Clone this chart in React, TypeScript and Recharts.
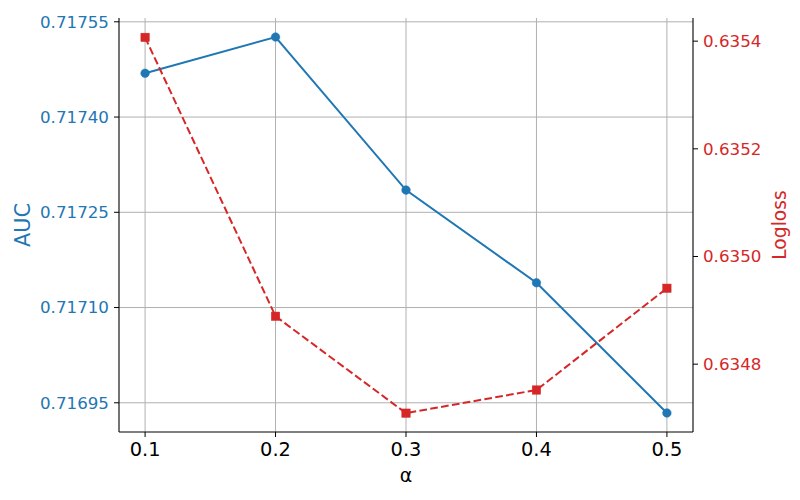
import React from "react";
import {
  LineChart,
  Line,
  CartesianGrid,
  XAxis,
  YAxis,
} from "recharts";

const alphas = [0.1, 0.2, 0.3, 0.4, 0.5];
const aucValues = [0.717469, 0.717526, 0.717285, 0.717139, 0.716934];
const loglossValues = [0.635407, 0.634889, 0.634709, 0.634752, 0.634941];

const xTicks = [0.1, 0.2, 0.3, 0.4, 0.5];
const aucTicks = [0.71695, 0.7171, 0.71725, 0.7174, 0.71755];
const loglossTicks = [0.6348, 0.635, 0.6352, 0.6354];

const BLUE = "#1f77b4";
const RED = "#d62728";
const FONT = "DejaVu Sans, sans-serif";

const chartData = alphas.map((a, i) => ({
  alpha: a,
  auc: aucValues[i],
  logloss: loglossValues[i],
}));

const SquareDot = (props: any) => {
  const { cx, cy, index } = props;
  if (cx == null || cy == null) return <g key={`sq-${index}`} />;
  return (
    <rect
      key={`sq-${index}`}
      x={cx - 4.2}
      y={cy - 4.2}
      width={8.4}
      height={8.4}
      fill={RED}
      stroke={RED}
      strokeWidth={0.5}
    />
  );
};

const AxisTitle = ({ viewBox, text, dx, color, size }: any) => {
  const x = viewBox.x + dx;
  const y = viewBox.y + viewBox.height / 2;
  return (
    <text
      x={x}
      y={y}
      fill={color}
      fontSize={size}
      fontFamily={FONT}
      textAnchor="middle"
      dominantBaseline="central"
      transform={`rotate(-90, ${x}, ${y})`}
    >
      {text}
    </text>
  );
};

export default function App() {
  return (
    <div style={{ position: "absolute", left: 0, top: 0, background: "#fff" }}>
      <LineChart
        width={800}
        height={500}
        data={chartData}
        margin={{ top: 18, right: 0, left: 0, bottom: 0 }}
      >
        <CartesianGrid
          yAxisId="left"
          stroke="#b0b0b0"
          strokeWidth={1}
          horizontalValues={aucTicks}
          verticalValues={xTicks}
        />
        <XAxis
          dataKey="alpha"
          type="number"
          domain={[0.08, 0.52]}
          ticks={xTicks}
          height={68}
          axisLine={{ stroke: "#000", strokeWidth: 1.1 }}
          tickLine={{ stroke: "#000" }}
          tickSize={5}
          tickMargin={5}
          tick={{ fontSize: 19.4, fill: "#000", fontFamily: FONT }}
          tickFormatter={(v: number) => v.toFixed(1)}
          label={(p: any) => (
            <text
              x={p.viewBox.x + p.viewBox.width / 2}
              y={p.viewBox.y + 43}
              fontSize={19}
              fontFamily={FONT}
              fill="#000"
              textAnchor="middle"
              dominantBaseline="central"
            >
              α
            </text>
          )}
        />
        <XAxis
          xAxisId="top"
          orientation="top"
          dataKey="alpha"
          type="number"
          domain={[0.08, 0.52]}
          height={0}
          tick={false}
          tickLine={false}
          axisLine={{ stroke: "#000", strokeWidth: 1.1 }}
        />
        <YAxis
          yAxisId="left"
          width={119}
          type="number"
          domain={[0.716904, 0.717556]}
          ticks={aucTicks}
          allowDataOverflow
          axisLine={{ stroke: "#000", strokeWidth: 1.1 }}
          tickLine={{ stroke: "#000" }}
          tickSize={5}
          tickMargin={5}
          tick={{ fontSize: 16.7, fill: BLUE, fontFamily: FONT }}
          tickFormatter={(v: number) => v.toFixed(5)}
          label={(p: any) => (
            <AxisTitle viewBox={p.viewBox} text="AUC" dx={22.5} color={BLUE} size={20.8} />
          )}
        />
        <YAxis
          yAxisId="right"
          orientation="right"
          width={107}
          type="number"
          domain={[0.634674, 0.635443]}
          ticks={loglossTicks}
          allowDataOverflow
          axisLine={{ stroke: "#000", strokeWidth: 1.1 }}
          tickLine={{ stroke: "#000" }}
          tickSize={5}
          tickMargin={5}
          tick={{ fontSize: 16.7, fill: RED, fontFamily: FONT }}
          tickFormatter={(v: number) => v.toFixed(4)}
          label={(p: any) => (
            <AxisTitle viewBox={p.viewBox} text="Logloss" dx={86} color={RED} size={18.7} />
          )}
        />
        <Line
          yAxisId="left"
          type="linear"
          dataKey="auc"
          stroke={BLUE}
          strokeWidth={2}
          dot={{ r: 4.3, fill: BLUE, stroke: BLUE, strokeWidth: 0.5 }}
          activeDot={false}
          isAnimationActive={false}
        />
        <Line
          yAxisId="right"
          type="linear"
          dataKey="logloss"
          stroke={RED}
          strokeWidth={2}
          strokeDasharray="7.7 3.3"
          dot={<SquareDot />}
          activeDot={false}
          isAnimationActive={false}
        />
      </LineChart>
    </div>
  );
}
